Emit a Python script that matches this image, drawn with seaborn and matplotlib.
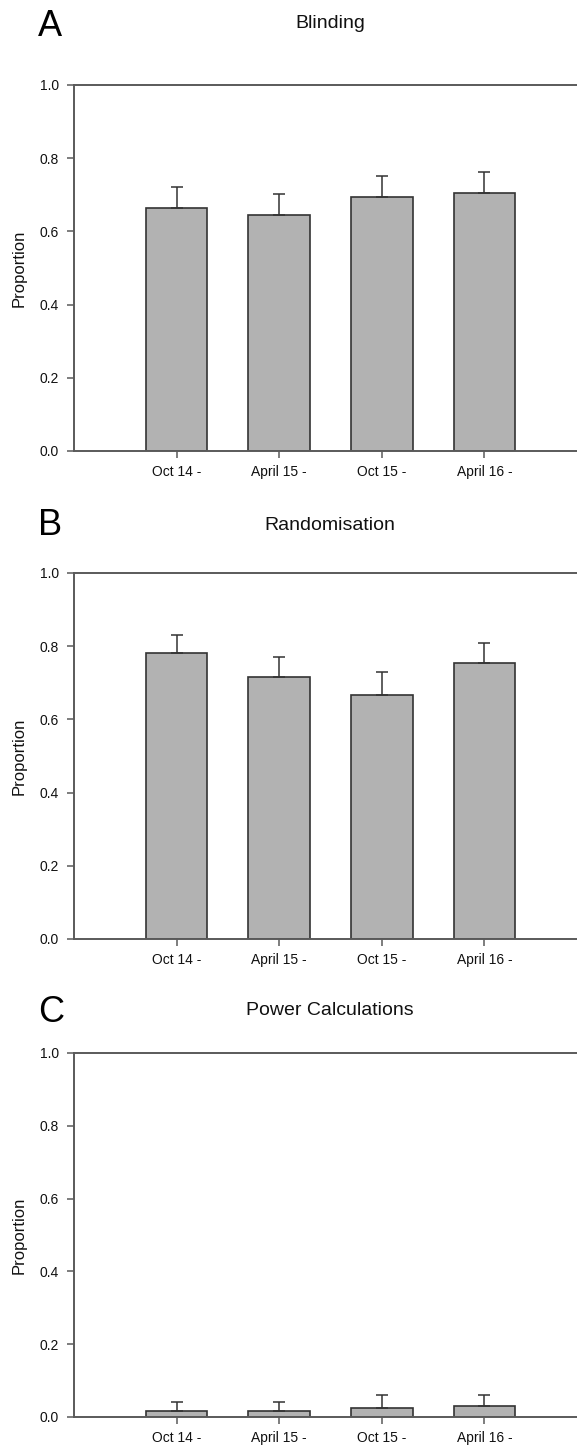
import numpy as np
import pandas as pd
import matplotlib
matplotlib.use("Agg")
import matplotlib.pyplot as plt
import seaborn as sns

sns.set_theme(style="white")
plt.rcParams['font.family'] = ['Liberation Sans', 'DejaVu Sans']

# data
periods = ["Oct 14 -", "April 15 -", "Oct 15 -", "April 16 -"]
panel_letters = ["A", "B", "C"]
panel_titles = ["Blinding", "Randomisation", "Power Calculations"]

blinding = [0.664, 0.645, 0.694, 0.705]
blinding_top = [0.721, 0.702, 0.751, 0.762]

randomisation = [0.782, 0.716, 0.668, 0.753]
randomisation_top = [0.831, 0.771, 0.730, 0.810]

power = [0.017, 0.017, 0.025, 0.031]
power_top = [0.040, 0.040, 0.061, 0.061]

yticks = [0.0, 0.2, 0.4, 0.6, 0.8, 1.0]

values = [blinding, randomisation, power]
tops = [blinding_top, randomisation_top, power_top]

W, H = 577, 1445
fig = plt.figure(figsize=(W / 100, H / 100), dpi=100)

bar_col = "#b2b2b2"
edge_col = "#333333"
line_col = "#5a5a5a"

# axes boxes in pixels: (top, bottom)
boxes = [(85, 451), (573, 939), (1053, 1417)]
title_base = [28, 530, 1015]
letter_base = [36, 535, 1022]
left_px, right_px = 74, 587

for i in range(3):
    top, bot = boxes[i]
    ax = fig.add_axes([left_px / W, 1 - bot / H, (right_px - left_px) / W, (bot - top) / H])
    df = pd.DataFrame({"period": periods, "proportion": values[i]})
    sns.barplot(data=df, x="period", y="proportion", ax=ax, color=bar_col,
                edgecolor=edge_col, linewidth=1.2, width=0.6, saturation=1)
    up = np.array(tops[i]) - np.array(values[i])
    ax.errorbar(np.arange(len(periods)), values[i], yerr=[np.zeros(len(up)), up],
                fmt="none", ecolor=edge_col, elinewidth=1.1, capsize=4, capthick=1.1)
    ax.set_xlim(-1.0, 4.0)
    ax.set_ylim(0, 1.0)
    ax.set_yticks(yticks)
    ax.set_yticklabels([f"{t:.1f}" for t in yticks])
    ax.set_xlabel("")
    ax.set_ylabel("Proportion", fontsize=12, color="#111111", labelpad=9)
    for s in ["left", "top", "bottom"]:
        ax.spines[s].set_color(line_col)
        ax.spines[s].set_linewidth(1.4)
    ax.spines["right"].set_visible(False)
    ax.tick_params(axis="both", direction="out", length=5, width=1.1, color=line_col,
                   labelsize=10, labelcolor="#111111", bottom=True, left=True)
    ax.tick_params(axis="x", pad=5)
    ax.tick_params(axis="y", pad=6)

    fig.text(38 / W, 1 - letter_base[i] / H, panel_letters[i], fontsize=26,
             ha="left", va="baseline", color="black")
    fig.text(330 / W, 1 - title_base[i] / H, panel_titles[i], fontsize=14,
             ha="center", va="baseline", color="#111111")

fig.savefig("out.png", dpi=100)
